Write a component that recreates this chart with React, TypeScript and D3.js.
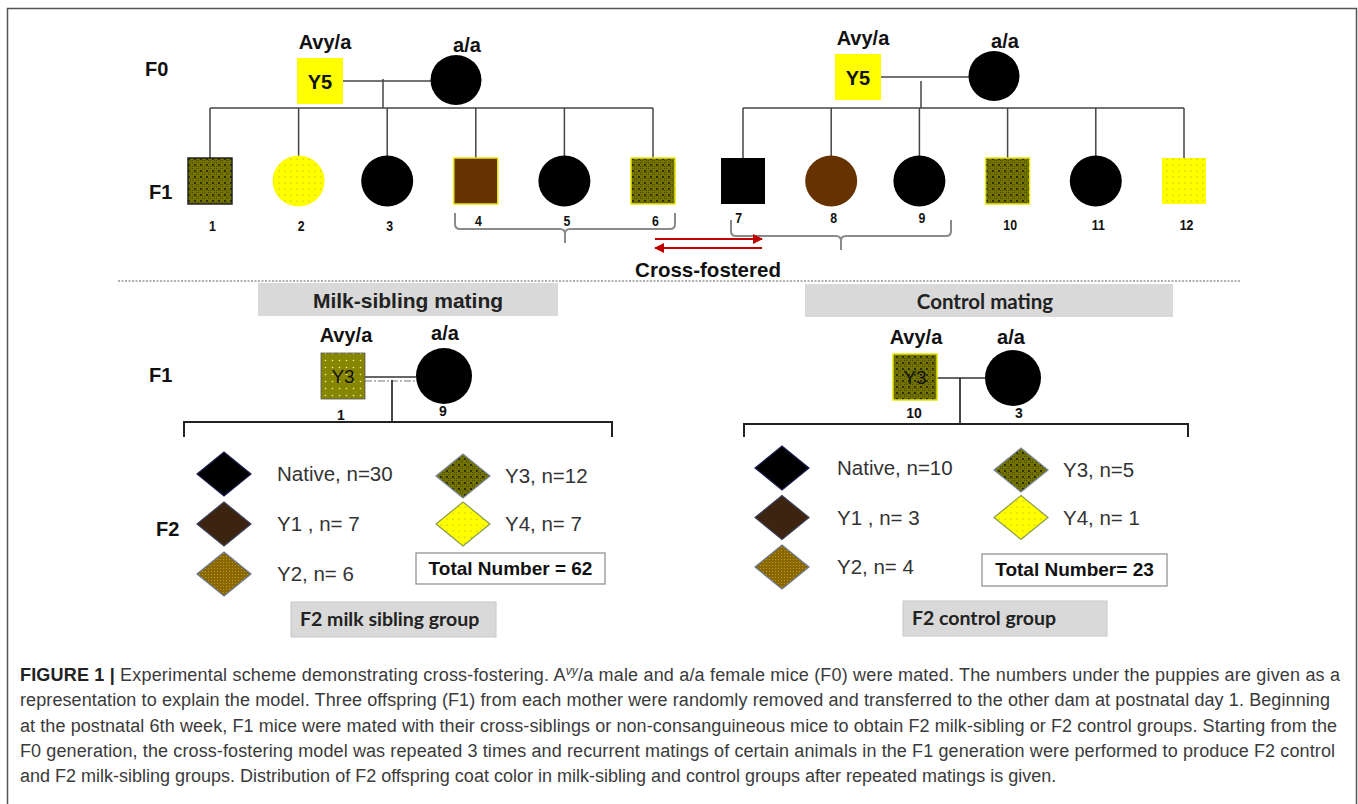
import React from "react";
import * as d3 from "d3";

// pedigree content
const generationLabels = ["F0", "F1", "F2"];
const parentGenotypes = ["Avy/a", "a/a"];
const founderCoat = "Y5";
const pupIds = [[1, 2, 3, 4, 5, 6], [7, 8, 9, 10, 11, 12]];
const pupSex = [["m", "f", "f", "m", "f", "m"], ["m", "f", "f", "m", "f", "m"]];
const pupCoats = [
  ["Y3", "Y4", "Native", "Y1", "Native", "Y3"],
  ["Native", "Y1", "Native", "Y3", "Native", "Y4"],
];
const fosteredIdx = [[3, 4, 5], [0, 1, 2]];
const crossLabel = "Cross-fostered";

const matingTitles = ["Milk-sibling mating", "Control mating"];
const matingFathers = [1, 10];
const matingMothers = [9, 3];
const matingFatherCoat = ["Y3", "Y3"];

const f2Coats = ["Native", "Y1", "Y2", "Y3", "Y4"];
const f2LabelPrefix = ["Native, n=", "Y1 , n= ", "Y2, n= ", "Y3, n=", "Y4, n= "];
const milkSiblingCounts = [30, 7, 6, 12, 7];
const controlCounts = [10, 3, 4, 5, 1];
const totalPrefix = ["Total Number = ", "Total Number= "];
const groupTitles = ["F2 milk sibling group", "F2 control group"];

const captionLead = "FIGURE 1 |";
const captionLine1 = [
  " Experimental scheme demonstrating cross-fostering. A",
  "vy",
  "/a male and a/a female mice (F0) were mated. The numbers under the puppies are given as a",
];
const captionLines = [
  "representation to explain the model. Three offspring (F1) from each mother were randomly removed and transferred to the other dam at postnatal day 1. Beginning",
  "at the postnatal 6th week, F1 mice were mated with their cross-siblings or non-consanguineous mice to obtain F2 milk-sibling or F2 control groups. Starting from the",
  "F0 generation, the cross-fostering model was repeated 3 times and recurrent matings of certain animals in the F1 generation were performed to produce F2 control",
  "and F2 milk-sibling groups. Distribution of F2 offspring coat color in milk-sibling and control groups after repeated matings is given.",
];
const captionWidths = [1320, 1310, 1317, 1315];

const SANS = "'Liberation Sans', Arial, sans-serif";
const CAL = "Lato, 'Open Sans', sans-serif";

const coatFill: Record<string, string> = {
  Native: "#000",
  Y1: "#663300",
  Y2: "url(#y2pat)",
  Y3: "url(#olive)",
  Y4: "url(#ydots)",
  Y5: "#ffff00",
};
const diamondFill: Record<string, string> = {
  Native: "#000",
  Y1: "#3d2410",
  Y2: "url(#y2pat)",
  Y3: "url(#olive)",
  Y4: "url(#ydots)",
};
const diamondStroke: Record<string, string> = {
  Native: "#1c2050",
  Y1: "#3a3f5a",
  Y2: "#6a7898",
  Y3: "#7a88a0",
  Y4: "#8a9a50",
};

const App = () => {
  const W = 1358, H = 804;

  // top litters
  const litterDx = [0, 538];
  const litterDy = [0, -4];
  const pupX = [
    d3.scaleLinear().domain([0, 5]).range([210, 653]),
    d3.scaleLinear().domain([0, 5]).range([743, 1184]),
  ];
  const pupCy = 181;
  const sibY = 108;
  const bracketSpan = [[455, 675, 213, 229], [731, 951, 220, 236]];
  const numY = [231, 230];

  const bracePath = (x1: number, x2: number, top: number, bot: number, mid: number, tick: number) => {
    const p = d3.path();
    p.moveTo(x1, top);
    p.lineTo(x1, bot - 5);
    p.quadraticCurveTo(x1, bot, x1 + 5, bot);
    p.lineTo(mid - 5, bot);
    p.quadraticCurveTo(mid, bot, mid, bot + 5);
    p.lineTo(mid, tick);
    p.moveTo(mid, bot + 5);
    p.quadraticCurveTo(mid, bot, mid + 5, bot);
    p.lineTo(x2 - 5, bot);
    p.quadraticCurveTo(x2, bot, x2, bot - 5);
    p.lineTo(x2, top);
    return p.toString();
  };

  const squareBracket = (x1: number, x2: number, y: number, end: number) => {
    const p = d3.path();
    p.moveTo(x1, end);
    p.lineTo(x1, y);
    p.lineTo(x2, y);
    p.lineTo(x2, end);
    return p.toString();
  };

  // lower panels
  const panels = [
    {
      box: [258, 283, 300, 33], titleX: 408, titleFont: SANS, titleSize: 21,
      sq: [321, 353], mom: [444, 376], mateY: 377, dropX: 392, dropTop: 380,
      fLab: [346, 342], mLab: [445, 340], numLab: [[341, 420], [443, 416]],
      br: [184, 612, 422, 437], cols: [224, 463], rows: [474, 574], gap: [53, 42],
      total: [416, 553, 189, 31], group: [291, 602, 205, 35], groupSize: 19.5, counts: milkSiblingCounts,
      sqFill: "url(#oliveLight)", sqStroke: "#555",
    },
    {
      box: [805, 284, 368, 33], titleX: 985, titleFont: CAL, titleSize: 20.5,
      sq: [893, 354], mom: [1013, 378], mateY: 378, dropX: 960, dropTop: 378,
      fLab: [916, 344], mLab: [1011, 344], numLab: [[914, 418], [1019, 418]],
      br: [744, 1188, 424, 437], cols: [782, 1021], rows: [468, 567], gap: [55, 42],
      total: [982, 554, 185, 32], group: [903, 601, 204, 35], groupSize: 19.5, counts: controlCounts,
      sqFill: "url(#olive)", sqStroke: "#e6e600",
    },
  ];

  const diamond = (cx: number, cy: number, hw: number, hh: number) =>
    `M${cx - hw},${cy} L${cx},${cy - hh} L${cx + hw},${cy} L${cx},${cy + hh} Z`;

  return (
    <div style={{ position: "absolute", left: 0, top: 0 }}>
      <svg width={W} height={H} viewBox={`0 0 ${W} ${H}`} style={{ display: "block" }}>
        <defs>
          <pattern id="olive" width={6} height={6} patternUnits="userSpaceOnUse">
            <rect width={6} height={6} fill="#727200" />
            <path d="M0,0h1v1h-1z M2,2h1v1h-1z M4,4h1v1h-1z M4,0h1v1h-1z M0,4h1v1h-1z" fill="#4a4a00" />
            <circle cx={3} cy={3} r={0.9} fill="#111" />
          </pattern>
          <pattern id="oliveLight" width={7} height={7} patternUnits="userSpaceOnUse">
            <rect width={7} height={7} fill="#868600" />
            <circle cx={3.5} cy={3.5} r={0.8} fill="#f2f290" />
          </pattern>
          <pattern id="ydots" width={6} height={6} patternUnits="userSpaceOnUse">
            <rect width={6} height={6} fill="#ffff00" />
            <circle cx={3} cy={3} r={0.6} fill="#9a9a40" />
          </pattern>
          <pattern id="y2pat" width={3} height={3} patternUnits="userSpaceOnUse">
            <rect width={3} height={3} fill="#8a6800" />
            <circle cx={1.5} cy={1.5} r={0.6} fill="#c8a030" />
          </pattern>
          <marker id="arrowR" viewBox="0 0 10 10" refX={9} refY={5} markerWidth={5} markerHeight={5} orient="auto">
            <path d="M0,0 L10,5 L0,10 Z" fill="#c00000" />
          </marker>
        </defs>

        <rect width={W} height={H} fill="#fff" />
        <rect x={7.5} y={8.5} width={1349} height={830} fill="none" stroke="#555" strokeWidth={1.5} />

        {/* F0 / F1 pedigree */}
        <text x={145} y={76} fontFamily={SANS} fontWeight="bold" fontSize={20} fill="#111">{generationLabels[0]}</text>
        <text x={149} y={199} fontFamily={SANS} fontWeight="bold" fontSize={20} fill="#111">{generationLabels[1]}</text>

        {pupIds.map((ids, l) => {
          const dx = litterDx[l], dy = litterDy[l];
          const sqX = 297 + dx, sqY = 58 + dy;
          const momCx = 456 + dx, momCy = 80 + dy;
          const mateY = 81 + dy;
          const dropX = 383 + dx;
          const x = pupX[l];
          const [bx1, bx2, btop, bbot] = bracketSpan[l];
          return (
            <g key={l}>
              <text x={sqX + 28} y={49 + dy} textAnchor="middle" fontFamily={SANS} fontWeight="bold" fontSize={20} fill="#111">{parentGenotypes[0]}</text>
              <text x={momCx + 11} y={52 + dy} textAnchor="middle" fontFamily={SANS} fontWeight="bold" fontSize={20} fill="#111">{parentGenotypes[1]}</text>
              <line x1={sqX + 46} x2={momCx - 25} y1={mateY} y2={mateY} stroke="#444" strokeWidth={1.5} />
              <line x1={dropX} x2={dropX} y1={mateY - 2 + (l ? 6 : 0)} y2={sibY} stroke="#444" strokeWidth={1.5} />
              <rect x={sqX} y={sqY} width={46} height={46} fill={coatFill[founderCoat]} />
              <text x={sqX + 23} y={sqY + 31} textAnchor="middle" fontFamily={SANS} fontWeight="bold" fontSize={20} fill="#111">{founderCoat}</text>
              <ellipse cx={momCx} cy={momCy} rx={25.5} ry={25} fill="#000" />
              <line x1={x(0)} x2={x(5)} y1={sibY} y2={sibY} stroke="#444" strokeWidth={1.5} />
              {ids.map((id, i) => {
                const cx = x(i);
                const coat = pupCoats[l][i];
                const male = pupSex[l][i] === "m";
                const top = male ? pupCy - 23 : pupCy - 25;
                const fostered = fosteredIdx[l].includes(i);
                return (
                  <g key={id}>
                    <line x1={cx} x2={cx} y1={sibY} y2={top} stroke="#444" strokeWidth={1.5} />
                    {male ? (
                      <rect x={cx - 22} y={pupCy - 23} width={44} height={46} fill={coatFill[coat]}
                        stroke={coat === "Native" ? "none" : id === 1 ? "#222" : coat === "Y4" ? "none" : "#e8e800"} strokeWidth={1.5} />
                    ) : (
                      <ellipse cx={cx} cy={pupCy} rx={26} ry={25.5} fill={coatFill[coat]} />
                    )}
                    <text x={cx + (fostered && l === 1 && i === 0 ? -5 : 3)} y={fostered ? numY[l] - 5 - l * 2 : numY[l]} textAnchor="middle"
                      fontFamily={SANS} fontWeight="bold" fontSize={14.5} fill="#111"
                      transform={`translate(${cx} 0) scale(0.85 1) translate(${-cx} 0)`}>{id}</text>
                  </g>
                );
              })}
              <path d={bracePath(bx1, bx2, btop, bbot, (bx1 + bx2) / 2, bbot + 14)} fill="none" stroke="#8a8a8a" strokeWidth={2} />
            </g>
          );
        })}

        {/* cross-fostering arrows */}
        <line x1={655} x2={762} y1={239} y2={239} stroke="#c00000" strokeWidth={2} markerEnd="url(#arrowR)" />
        <line x1={762} x2={655} y1={248} y2={248} stroke="#c00000" strokeWidth={2} markerEnd="url(#arrowR)" />
        <text x={708} y={277} textAnchor="middle" fontFamily={SANS} fontWeight="bold" fontSize={20.5} fill="#111">{crossLabel}</text>
        <line x1={118} x2={1240} y1={281} y2={281} stroke="#b0b0b0" strokeWidth={2} strokeDasharray="2,1.5" />

        {/* F1 -> F2 matings */}
        <text x={149} y={382} fontFamily={SANS} fontWeight="bold" fontSize={20} fill="#111">{generationLabels[1]}</text>
        <text x={156} y={536} fontFamily={SANS} fontWeight="bold" fontSize={20} fill="#111">{generationLabels[2]}</text>

        {panels.map((p, k) => {
          const rowY = d3.scalePoint<number>().domain([0, 1, 2]).range(p.rows as [number, number]);
          const total = d3.sum(p.counts);
          const [sx, sy] = p.sq;
          const [mx, my] = p.mom;
          return (
            <g key={k}>
              <rect x={p.box[0]} y={p.box[1]} width={p.box[2]} height={p.box[3]} fill="#d9d9d9" />
              <text x={p.titleX} y={p.box[1] + 25} textAnchor="middle" fontFamily={p.titleFont} fontWeight="bold" fontSize={p.titleSize} fill="#222">{matingTitles[k]}</text>
              <text x={p.fLab[0]} y={p.fLab[1]} textAnchor="middle" fontFamily={SANS} fontWeight="bold" fontSize={20} fill="#111">{parentGenotypes[0]}</text>
              <text x={p.mLab[0]} y={p.mLab[1]} textAnchor="middle" fontFamily={SANS} fontWeight="bold" fontSize={20} fill="#111">{parentGenotypes[1]}</text>
              <line x1={sx + 44} x2={mx - 28} y1={p.mateY} y2={p.mateY} stroke="#333" strokeWidth={1.5} />
              {k === 0 && (
                <line x1={sx + 44} x2={mx - 28} y1={p.mateY + 4} y2={p.mateY + 4} stroke="#777" strokeWidth={1.2} strokeDasharray="7,2,2,2" />
              )}
              <line x1={p.dropX} x2={p.dropX} y1={p.dropTop} y2={p.br[2]} stroke="#333" strokeWidth={1.8} />
              <rect x={sx} y={sy} width={44} height={46} fill={p.sqFill} stroke={p.sqStroke} strokeWidth={k ? 1.5 : 0.8} />
              <text x={sx + 22} y={sy + 30} textAnchor="middle" fontFamily={SANS} fontSize={19} fill="#111">{matingFatherCoat[k]}</text>
              <circle cx={mx} cy={my} r={28} fill="#000" />
              <text x={p.numLab[0][0]} y={p.numLab[0][1]} textAnchor="middle" fontFamily={SANS} fontWeight="bold" fontSize={14} fill="#111">{matingFathers[k]}</text>
              <text x={p.numLab[1][0]} y={p.numLab[1][1]} textAnchor="middle" fontFamily={SANS} fontWeight="bold" fontSize={14} fill="#111">{matingMothers[k]}</text>
              <path d={squareBracket(p.br[0], p.br[1], p.br[2], p.br[3])} fill="none" stroke="#222" strokeWidth={2} />

              {f2Coats.map((coat, i) => {
                const col = i < 3 ? 0 : 1;
                const row = i < 3 ? i : i - 3;
                const cx = p.cols[col];
                const cy = (rowY(row) as number) + (col === 1 && row === 0 ? 2 : 0);
                return (
                  <g key={coat}>
                    <path d={diamond(cx, cy, 27, 22)} fill={diamondFill[coat]} stroke={diamondStroke[coat]} strokeWidth={1.2} />
                    <text x={cx + p.gap[col]} y={cy + 7} fontFamily={SANS} fontSize={20.5} fill="#333">
                      {f2LabelPrefix[i] + p.counts[i]}
                    </text>
                  </g>
                );
              })}

              <rect x={p.total[0]} y={p.total[1]} width={p.total[2]} height={p.total[3]} fill="#fff" stroke="#8a8a8a" strokeWidth={1.2} />
              <text x={p.total[0] + p.total[2] / 2} y={p.total[1] + 22} textAnchor="middle" fontFamily={SANS} fontWeight="bold" fontSize={19} fill="#111">
                {totalPrefix[k] + total}
              </text>
              <rect x={p.group[0]} y={p.group[1]} width={p.group[2]} height={p.group[3]} fill="#d9d9d9" stroke="#c8c8c8" />
              <text x={p.group[0] + 9} y={p.group[1] + 24} fontFamily={CAL} fontWeight="bold" fontSize={p.groupSize} fill="#222">{groupTitles[k]}</text>
            </g>
          );
        })}

        {/* caption */}
        <g fontFamily={SANS} fontSize={18} fill="#3a3a3a">
          <text x={20} y={681} textLength={captionWidths[0]} lengthAdjust="spacing">
            <tspan fontWeight="bold" fill="#222">{captionLead}</tspan>
            <tspan>{captionLine1[0]}</tspan>
            <tspan dy={-6} fontSize={12} fontStyle="italic">{captionLine1[1]}</tspan>
            <tspan dy={6}>{captionLine1[2]}</tspan>
          </text>
          {captionLines.map((t, i) => (
            <text key={i} x={20} y={681 + 25.3 * (i + 1)}
              textLength={i < 3 ? captionWidths[i + 1] : undefined} lengthAdjust="spacing">{t}</text>
          ))}
        </g>
      </svg>
    </div>
  );
};

export default App;
